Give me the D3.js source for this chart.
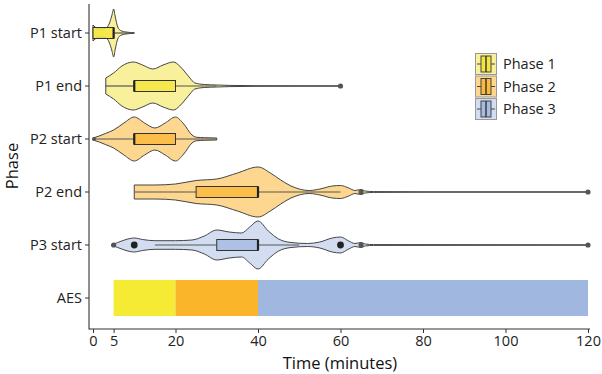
<!DOCTYPE html>
<html><head><meta charset="utf-8">
<script src="https://cdn.jsdelivr.net/npm/d3@7"></script>
<style>body{margin:0;background:#fff} svg{display:block;font-family:"Open Sans",sans-serif}</style>
</head><body><svg id="c" width="602" height="374"></svg>
<script>
// ---- data ----
const categories = ["P1 start", "P1 end", "P2 start", "P2 end", "P3 start", "AES"];
const xTicks = [0, 5, 20, 40, 60, 80, 100, 120];
const phases = ["Phase 1", "Phase 2", "Phase 3"];

// box-plot summaries (minutes)
const boxCats    = ["P1 start", "P1 end", "P2 start", "P2 end", "P3 start"];
const boxPhase   = ["Phase 1", "Phase 1", "Phase 2", "Phase 2", "Phase 3"];
const whiskerLow = [0, 3, 0, 10, 15];
const q1         = [0, 10, 10, 25, 30];
const median     = [5, 10, 10, 40, 40];
const q3         = [5, 20, 20, 40, 40];
const whiskerHigh= [10, 30, 30, 60, 50];
const outliersP1End   = [60];
const outliersP2Start = [0];
const outliersP2End   = [65, 120];
const outliersP3Start = [5, 10, 60, 65, 120];
const heavyOutliersP3Start = [10, 60];

// violin density profiles (time in minutes, relative density)
const vP1StartT = [0, 0.5, 1.5, 3, 4, 4.6, 5, 5.4, 6, 6.7, 8, 10];
const vP1StartD = [8, 6, 4, 4.5, 10, 18, 24, 16, 6, 2.5, 1, 0.3];
const vP1EndT = [3.1, 5, 7, 9.8, 12, 14.5, 17, 19.5, 21, 22.3, 23.5, 24.7, 27, 30, 33, 40, 60];
const vP1EndD = [8, 13, 20, 24, 21, 17, 21, 24, 20, 14, 8, 3, 1.5, 1, 0.6, 0.3, 0.2];
const vP2StartT = [0, 1.5, 3, 5, 7.5, 10, 12.5, 15, 17.5, 20, 22, 24, 25, 27, 30];
const vP2StartD = [1, 3, 5.5, 9, 16, 22, 16, 11, 16, 22, 15, 4, 1.8, 1.3, 1];
const vP2EndT = [10, 15, 20, 25, 30, 35, 40, 43, 45.5, 48, 50, 52.5, 55, 58, 60, 62, 63.5, 65, 66, 68, 80, 120];
const vP2EndD = [7, 7, 8, 11.5, 13, 19, 25, 19, 12, 6, 3, 1.5, 3, 6, 6.5, 4, 1.5, 2.5, 1, 0.4, 0.2, 0.2];
const vP3StartT = [5, 6, 8, 10, 12, 15, 20, 24, 27, 30, 33, 36, 38, 40, 42.5, 45, 48, 52, 55, 58, 60, 62, 63.5, 65, 66, 68, 120];
const vP3StartD = [1, 2.5, 5.5, 7, 5.5, 4.3, 4.3, 5, 9, 15, 13, 12, 18, 24, 14, 6, 2.5, 1.5, 3, 7, 8, 4, 1.5, 2.5, 1, 0.4, 0.2];

// AES reference bars
const aesPhase = ["Phase 1", "Phase 2", "Phase 3"];
const aesStart = [5, 20, 40];
const aesEnd   = [20, 40, 120];

// ---- styles ----
const violinFill = {"Phase 1": "#F8F09A", "Phase 2": "#FDD78F", "Phase 3": "#D3DDF1"};
const boxFill    = {"Phase 1": "#F3E640", "Phase 2": "#FBBA3E", "Phase 3": "#A7BCE3"};
const barFill    = {"Phase 1": "#F5EB35", "Phase 2": "#FBB52A", "Phase 3": "#A0B8E0"};

const svg = d3.select("#c");
const x = d3.scaleLinear().domain([0, 120]).range([93, 588]);
const y = d3.scaleBand().domain(categories).range([6.5, 324.5]).padding(0);
const cy = c => y(c) + y.bandwidth() / 2;
const w = d3.scaleLinear().domain([0, 25]).range([0, 25]);

const violins = [
  {cat: "P1 start", phase: "Phase 1", t: vP1StartT, d: vP1StartD},
  {cat: "P1 end",   phase: "Phase 1", t: vP1EndT,   d: vP1EndD},
  {cat: "P2 start", phase: "Phase 2", t: vP2StartT, d: vP2StartD},
  {cat: "P2 end",   phase: "Phase 2", t: vP2EndT,   d: vP2EndD},
  {cat: "P3 start", phase: "Phase 3", t: vP3StartT, d: vP3StartD}
];

// AES bars
svg.append("g").selectAll("rect").data(aesPhase).join("rect")
  .attr("x", (p, i) => x(aesStart[i]))
  .attr("width", (p, i) => x(aesEnd[i]) - x(aesStart[i]))
  .attr("y", cy("AES") - 18).attr("height", 36)
  .attr("fill", p => barFill[p]);

// violins
violins.forEach(v => {
  const pts = v.t.map((t, i) => [t, v.d[i]]);
  const area = d3.area().curve(d3.curveMonotoneX)
    .x(p => x(p[0]))
    .y0(p => cy(v.cat) - w(p[1]))
    .y1(p => cy(v.cat) + w(p[1]));
  svg.append("path").attr("d", area(pts))
    .attr("fill", violinFill[v.phase]).attr("stroke", "#444").attr("stroke-width", 1);
});

// boxplots
const bh = 11;
boxCats.forEach((c, i) => {
  const g = svg.append("g");
  const yc = cy(c);
  g.append("line").attr("x1", x(whiskerLow[i])).attr("x2", x(q1[i])).attr("y1", yc).attr("y2", yc)
    .attr("stroke", "#555").attr("stroke-width", 1.2);
  g.append("line").attr("x1", x(q3[i])).attr("x2", x(whiskerHigh[i])).attr("y1", yc).attr("y2", yc)
    .attr("stroke", "#555").attr("stroke-width", 1.2);
  g.append("rect").attr("x", x(q1[i])).attr("width", x(q3[i]) - x(q1[i]))
    .attr("y", yc - bh / 2).attr("height", bh)
    .attr("fill", boxFill[boxPhase[i]]).attr("fill-opacity", 0.85)
    .attr("stroke", "#333").attr("stroke-width", 1);
  g.append("line").attr("x1", x(median[i])).attr("x2", x(median[i]))
    .attr("y1", yc - bh / 2).attr("y2", yc + bh / 2)
    .attr("stroke", "#222").attr("stroke-width", 2.2);
});

// outliers
const outl = [["P1 end", outliersP1End], ["P2 end", outliersP2End], ["P3 start", outliersP3Start]];
outl.forEach(([c, arr]) => {
  svg.append("g").selectAll("circle").data(arr).join("circle")
    .attr("cx", d => x(d)).attr("cy", cy(c)).attr("r", 2.6).attr("fill", "#555");
});
svg.append("g").selectAll("circle").data(outliersP2Start).join("circle")
  .attr("cx", d => x(d) + 1).attr("cy", cy("P2 start")).attr("r", 2).attr("fill", "#555");
svg.append("g").selectAll("circle").data(heavyOutliersP3Start).join("circle")
  .attr("cx", d => x(d)).attr("cy", cy("P3 start")).attr("r", 3.4).attr("fill", "#222");

// axes
const xAxis = svg.append("g").attr("transform", "translate(0,329)")
  .call(d3.axisBottom(x).tickValues(xTicks).tickSize(4).tickSizeOuter(0).tickPadding(3));
xAxis.select(".domain").remove();
xAxis.append("line").attr("x1", 89).attr("x2", 590).attr("stroke", "#333").attr("stroke-width", 1.1);
xAxis.selectAll(".tick line").attr("stroke", "#333");
xAxis.selectAll("text").attr("font-size", 14.5).attr("fill", "#222").attr("font-family", "Open Sans");

const yAxis = svg.append("g").attr("transform", "translate(89,0)")
  .call(d3.axisLeft(y).tickSize(4).tickSizeOuter(0).tickPadding(3));
yAxis.select(".domain").remove();
yAxis.append("line").attr("y1", 4).attr("y2", 329.5).attr("stroke", "#333").attr("stroke-width", 1.1);
yAxis.selectAll(".tick line").attr("stroke", "#333");
yAxis.selectAll("text").attr("font-size", 14.5).attr("fill", "#222").attr("font-family", "Open Sans");

svg.append("text").attr("x", 340).attr("y", 369).attr("text-anchor", "middle")
  .attr("font-size", 16.5).attr("fill", "#111").text("Time (minutes)");
svg.append("text").attr("transform", "translate(18,166) rotate(-90)").attr("text-anchor", "middle")
  .attr("font-size", 16.5).attr("fill", "#111").text("Phase");

// legend
const lg = svg.append("g").attr("transform", "translate(475,53)");
phases.forEach((p, i) => {
  const k = lg.append("g").attr("transform", `translate(0,${i * 22.5})`);
  k.append("rect").attr("x", 0.5).attr("y", 0.5).attr("width", 21).attr("height", 21)
    .attr("fill", violinFill[p]).attr("stroke", "#999").attr("stroke-width", 1);
  k.append("line").attr("x1", 2).attr("x2", 20).attr("y1", 11).attr("y2", 11).attr("stroke", "#444");
  k.append("rect").attr("x", 6).attr("y", 3).attr("width", 10).attr("height", 16)
    .attr("fill", boxFill[p]).attr("stroke", "#444").attr("stroke-width", 1);
  k.append("line").attr("x1", 11).attr("x2", 11).attr("y1", 3).attr("y2", 19).attr("stroke", "#333").attr("stroke-width", 1.4);
  k.append("text").attr("x", 28).attr("y", 11).attr("dy", "0.35em")
    .attr("font-size", 14.5).attr("fill", "#222").text(p);
});
</script></body></html>
